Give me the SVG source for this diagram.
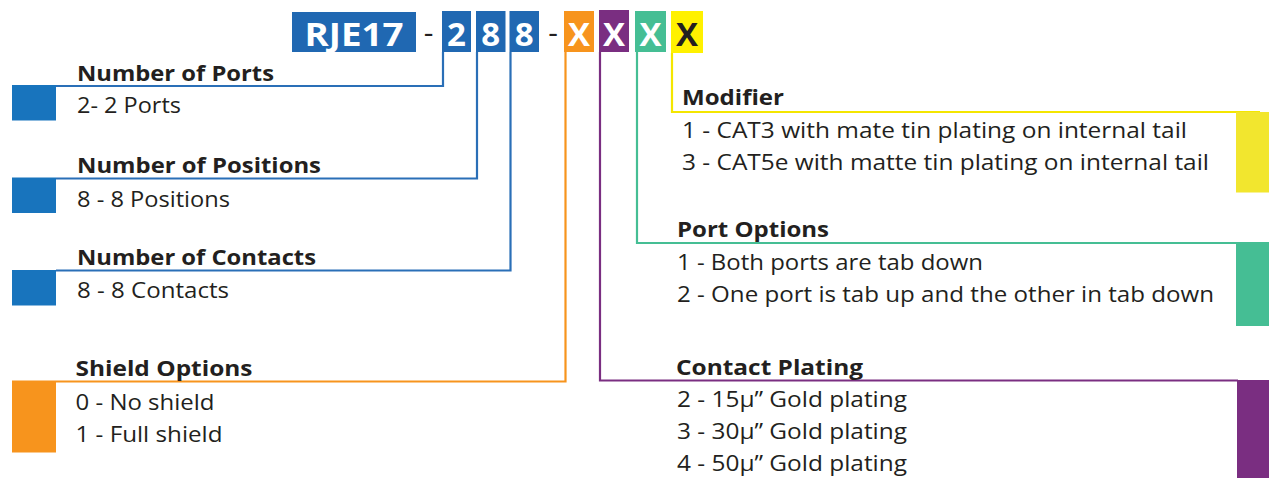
<svg xmlns="http://www.w3.org/2000/svg" width="1269" height="478" viewBox="0 0 1269 478">
<style>
text{font-family:"Open Sans","Liberation Sans",sans-serif;fill:#231f20}
.h{font-weight:700;font-size:22px}
.r{font-weight:400;font-size:21px}
.code{font-weight:700;font-size:33px;fill:#fff}
.dash{font-weight:400;font-size:30px}
.ln{fill:none;stroke-width:2.2}
</style>
<rect width="1269" height="478" fill="#fff"/>
<g id="header">
  <rect x="292" y="12" width="124" height="40" fill="#2068b2"/>
  <text class="code" x="354" y="45.5" text-anchor="middle" textLength="99" lengthAdjust="spacingAndGlyphs">RJE17</text>
  <text class="dash" x="428.5" y="43" text-anchor="middle">-</text>
  <rect x="442" y="11" width="29" height="41" fill="#2068b2"/>
  <text class="code" x="456.5" y="45.5" text-anchor="middle">2</text>
  <rect x="476" y="11" width="29.5" height="41" fill="#2068b2"/>
  <text class="code" x="490.7" y="45.5" text-anchor="middle">8</text>
  <rect x="509.5" y="11" width="29.5" height="41" fill="#2068b2"/>
  <text class="code" x="524.2" y="45.5" text-anchor="middle">8</text>
  <text class="dash" x="553" y="43" text-anchor="middle">-</text>
  <rect x="564" y="11" width="30" height="41" fill="#f7941d"/>
  <text class="code" x="579" y="46" text-anchor="middle">X</text>
  <rect x="599" y="10" width="30" height="42" fill="#7a2e81"/>
  <text class="code" x="614" y="46" text-anchor="middle">X</text>
  <rect x="635" y="11" width="31" height="41" fill="#45be94"/>
  <text class="code" x="650.5" y="46" text-anchor="middle">X</text>
  <rect x="671" y="11" width="32" height="42" fill="#fff100"/>
  <text class="code" x="687" y="46" text-anchor="middle" style="fill:#231f20">X</text>
</g>
<g id="connectors">
  <polyline class="ln" stroke="#2a6fb7" points="443,52 443,86 56,86"/>
  <polyline class="ln" stroke="#2a6fb7" points="477,52 477,178.5 56,178.5"/>
  <polyline class="ln" stroke="#2a6fb7" points="510.5,52 510.5,270.5 56,270.5"/>
  <polyline class="ln" stroke="#f7941d" points="565.5,52 565.5,381.5 12,381.5"/>
  <polyline class="ln" stroke="#7a2e81" points="600,52 600,380.5 1238,380.5"/>
  <polyline class="ln" stroke="#45be94" points="637,52 637,243 1238,243"/>
  <polyline class="ln" stroke="#f4e600" points="672,53 672,112 1260,112"/>
</g>
<g id="ports">
  <rect x="12" y="85" width="44" height="35.5" fill="#1874bd"/>
  <text class="h" x="77" y="81" textLength="197" lengthAdjust="spacingAndGlyphs">Number of Ports</text>
  <text class="r" x="77" y="113" textLength="104" lengthAdjust="spacingAndGlyphs">2- 2 Ports</text>
</g>
<g id="positions">
  <rect x="12" y="177.5" width="44" height="35.5" fill="#1874bd"/>
  <text class="h" x="77" y="173" textLength="244" lengthAdjust="spacingAndGlyphs">Number of Positions</text>
  <text class="r" x="77" y="206.5" textLength="153" lengthAdjust="spacingAndGlyphs">8 - 8 Positions</text>
</g>
<g id="contacts">
  <rect x="12" y="270" width="44" height="35.5" fill="#1874bd"/>
  <text class="h" x="77" y="265" textLength="239" lengthAdjust="spacingAndGlyphs">Number of Contacts</text>
  <text class="r" x="77" y="297.5" textLength="152" lengthAdjust="spacingAndGlyphs">8 - 8 Contacts</text>
</g>
<g id="shield">
  <rect x="12" y="381" width="44" height="71.5" fill="#f7941d"/>
  <text class="h" x="75.5" y="376" textLength="177" lengthAdjust="spacingAndGlyphs">Shield Options</text>
  <text class="r" x="75.5" y="410" textLength="139" lengthAdjust="spacingAndGlyphs">0 - No shield</text>
  <text class="r" x="75.5" y="441.5" textLength="147" lengthAdjust="spacingAndGlyphs">1 - Full shield</text>
</g>
<g id="modifier">
  <rect x="1236" y="112" width="33" height="80.5" fill="#f2e62e"/>
  <text class="h" x="682" y="105" textLength="102" lengthAdjust="spacingAndGlyphs">Modifier</text>
  <text class="r" x="682" y="137.5" textLength="505" lengthAdjust="spacingAndGlyphs">1 - CAT3 with mate tin plating on internal tail</text>
  <text class="r" x="682" y="170" textLength="527" lengthAdjust="spacingAndGlyphs">3 - CAT5e with matte tin plating on internal tail</text>
</g>
<g id="port-options">
  <rect x="1236" y="242" width="33" height="84" fill="#45be94"/>
  <text class="h" x="677" y="236.5" textLength="152" lengthAdjust="spacingAndGlyphs">Port Options</text>
  <text class="r" x="677" y="269.5" textLength="306" lengthAdjust="spacingAndGlyphs">1 - Both ports are tab down</text>
  <text class="r" x="677" y="302" textLength="537" lengthAdjust="spacingAndGlyphs">2 - One port is tab up and the other in tab down</text>
</g>
<g id="contact-plating">
  <rect x="1237" y="380" width="32" height="98" fill="#7a2e81"/>
  <text class="h" x="676" y="375" textLength="187" lengthAdjust="spacingAndGlyphs">Contact Plating</text>
  <text class="r" x="677" y="406.5" textLength="230" lengthAdjust="spacingAndGlyphs">2 - 15µ” Gold plating</text>
  <text class="r" x="677" y="438.5" textLength="230" lengthAdjust="spacingAndGlyphs">3 - 30µ” Gold plating</text>
  <text class="r" x="677" y="471" textLength="230" lengthAdjust="spacingAndGlyphs">4 - 50µ” Gold plating</text>
</g>
</svg>
